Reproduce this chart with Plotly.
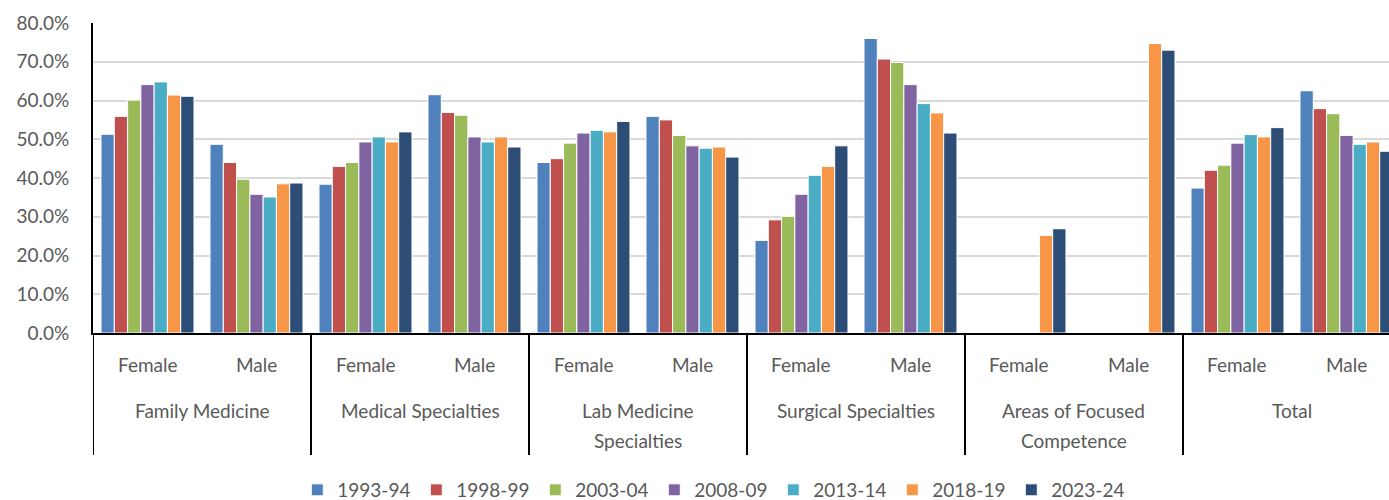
import plotly.graph_objects as go

groups = ["Family Medicine", "Medical Specialties", "Lab Medicine Specialties",
          "Surgical Specialties", "Areas of Focused Competence", "Total"]
group_lines = [["Family Medicine"], ["Medical Specialties"], ["Lab Medicine", "Specialties"],
               ["Surgical Specialties"], ["Areas of Focused", "Competence"], ["Total"]]
sexes = ["Female", "Male"]
years = ["1993-94", "1998-99", "2003-04", "2008-09", "2013-14", "2018-19", "2023-24"]

# values in %, order: FM F, FM M, MS F, MS M, Lab F, Lab M, Surg F, Surg M, AFC F, AFC M, Tot F, Tot M
v1993 = [51.3, 48.7, 38.4, 61.5, 44.0, 55.9, 23.9, 76.0, None, None, 37.4, 62.5]
v1998 = [55.9, 44.0, 43.0, 56.9, 45.0, 55.0, 29.2, 70.7, None, None, 42.0, 57.9]
v2003 = [60.1, 39.7, 44.0, 56.2, 49.0, 51.0, 30.1, 69.8, None, None, 43.3, 56.6]
v2008 = [64.1, 35.8, 49.3, 50.6, 51.6, 48.3, 35.8, 64.1, None, None, 49.0, 51.0]
v2013 = [64.8, 35.1, 50.6, 49.3, 52.3, 47.7, 40.7, 59.2, None, None, 51.2, 48.7]
v2018 = [61.4, 38.5, 49.3, 50.6, 51.9, 48.0, 43.0, 56.8, 25.2, 74.7, 50.6, 49.3]
v2023 = [61.1, 38.7, 51.9, 48.0, 54.6, 45.4, 48.3, 51.6, 26.9, 73.0, 53.0, 46.9]
series = [v1993, v1998, v2003, v2008, v2013, v2018, v2023]
colors = ["#4F81BD", "#C0504D", "#9BBB59", "#8064A2", "#4BACC6", "#F79646", "#2C4D75"]

cats = [f"{g} | {s}" for g in groups for s in sexes]

FONT = "Lato, Liberation Sans, sans-serif"
GRAY = "#595959"
FS = 19

fig = go.Figure()
for name, vals, col in zip(years, series, colors):
    fig.add_trace(go.Bar(x=cats, y=vals, name=name, marker_color=col,
                         marker_line=dict(color="white", width=1)))

H_PLOT = 310.0
def py(pix):  # pixel y (from top of image) -> paper coordinate
    return (333 - pix) / H_PLOT

shapes = []
annotations = []
for gi, glines in enumerate(group_lines):
    shapes.append(dict(type="line", xref="x", yref="paper", x0=2 * gi - 0.5, x1=2 * gi - 0.5,
                       y0=0, y1=py(455), line=dict(color="black", width=2)))
    for si, s in enumerate(sexes):
        annotations.append(dict(x=2 * gi + si, y=py(364), xref="x", yref="paper", text=s,
                                showarrow=False, font=dict(family=FONT, size=FS, color=GRAY),
                                xanchor="center", yanchor="middle"))
    for li, line in enumerate(glines):
        annotations.append(dict(x=2 * gi + 0.5, y=py(410 + 30 * li), xref="x", yref="paper", text=line,
                                showarrow=False, font=dict(family=FONT, size=FS, color=GRAY),
                                xanchor="center", yanchor="middle"))

fig.update_layout(
    width=1389, height=500,
    margin=dict(l=93, r=0, t=23, b=167, autoexpand=False),
    paper_bgcolor="white", plot_bgcolor="white",
    barmode="group", bargap=0.147, bargroupgap=0,
    font=dict(family=FONT, size=FS, color=GRAY),
    shapes=shapes, annotations=annotations,
    legend=dict(orientation="h", x=0.479, xanchor="center", y=py(490), yanchor="middle",
                font=dict(family=FONT, size=FS, color=GRAY),
                entrywidth=74, itemwidth=30, tracegroupgap=0),
    showlegend=True,
)
fig.update_xaxes(type="category", categoryorder="array", categoryarray=cats,
                 range=[-0.5, 11.39], showticklabels=False, showgrid=False,
                 showline=True, linecolor="black", linewidth=2, ticks="", zeroline=False,
                 automargin=False)
fig.update_yaxes(range=[0, 80], dtick=10, tickformat=".1f", ticksuffix="%",
                 showgrid=True, gridcolor="#D9D9D9", gridwidth=1.5,
                 showline=True, linecolor="black", linewidth=2, ticks="",
                 zeroline=False, ticklabelstandoff=18, automargin=False,
                 tickfont=dict(family=FONT, size=FS, color=GRAY))

fig.write_html("out.html", config={"displayModeBar": False},
               post_script="document.body.style.margin='0';document.body.style.overflow='hidden';")
